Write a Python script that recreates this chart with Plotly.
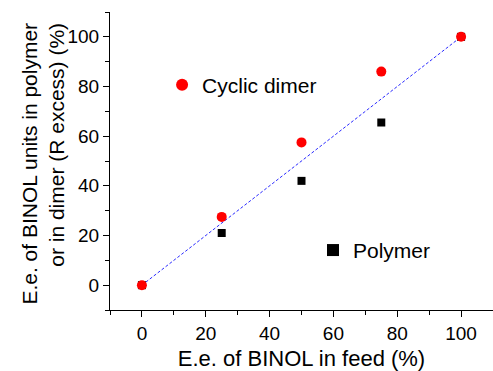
import plotly.graph_objects as go

feed_ee = [0, 25, 50, 75, 100]
dimer_ee = [0, 27.5, 57.5, 86, 100]
polymer_ee = [0, 21, 42, 65.5, 100]
ref_x = [0, 100]
ref_y = [0, 100]
tick_vals = [0, 20, 40, 60, 80, 100]

font = "Liberation Sans, Arial, sans-serif"

fig = go.Figure()
fig.add_trace(go.Scatter(x=ref_x, y=ref_y, mode="lines",
                         line=dict(color="#2a2aff", width=1, dash="3px,2px"),
                         showlegend=False))
fig.add_trace(go.Scatter(x=feed_ee, y=polymer_ee, mode="markers", name="Polymer",
                         marker=dict(symbol="square", color="black", size=8),
                         legend="legend2"))
fig.add_trace(go.Scatter(x=feed_ee, y=dimer_ee, mode="markers", name="Cyclic dimer",
                         marker=dict(symbol="circle", color="red", size=10),
                         legend="legend"))

axis_common = dict(
    showline=True, linecolor="black", linewidth=1, mirror=False,
    ticks="outside", ticklen=6, tickwidth=1, tickcolor="black",
    showgrid=False, zeroline=False, automargin=False,
    tickfont=dict(family=font, size=19, color="black"),
    minor=dict(ticks="outside", ticklen=4, tickcolor="black", dtick=10, showgrid=False),
)

fig.update_xaxes(range=[-10, 110], tickvals=tick_vals, **axis_common,
                 title=dict(text="E.e. of BINOL in feed (%)", standoff=11,
                            font=dict(family=font, size=22, color="black")))
fig.update_yaxes(range=[-10, 110], tickvals=tick_vals, **axis_common)

fig.add_annotation(
    text="E.e. of BINOL units in polymer<br>or in dimer (R excess) (%)",
    xref="paper", yref="paper", x=-0.176, y=0.49,
    xanchor="center", yanchor="middle", textangle=-90, align="right",
    showarrow=False, font=dict(family=font, size=21, color="black"),
)

fig.update_layout(
    width=493, height=371,
    margin=dict(l=110, r=0, t=12, b=61),
    plot_bgcolor="white", paper_bgcolor="white",
    legend=dict(x=0.136, y=0.755, xanchor="left", yanchor="middle",
                bgcolor="rgba(0,0,0,0)", font=dict(family=font, size=21, color="black"),
                itemsizing="constant"),
    legend2=dict(x=0.53, y=0.20, xanchor="left", yanchor="middle",
                 bgcolor="rgba(0,0,0,0)", font=dict(family=font, size=21, color="black"),
                 itemsizing="constant"),
)

fig.write_html("out.html", config={"displayModeBar": False},
               post_script="document.body.style.margin='0px';document.body.style.overflow='hidden';")
